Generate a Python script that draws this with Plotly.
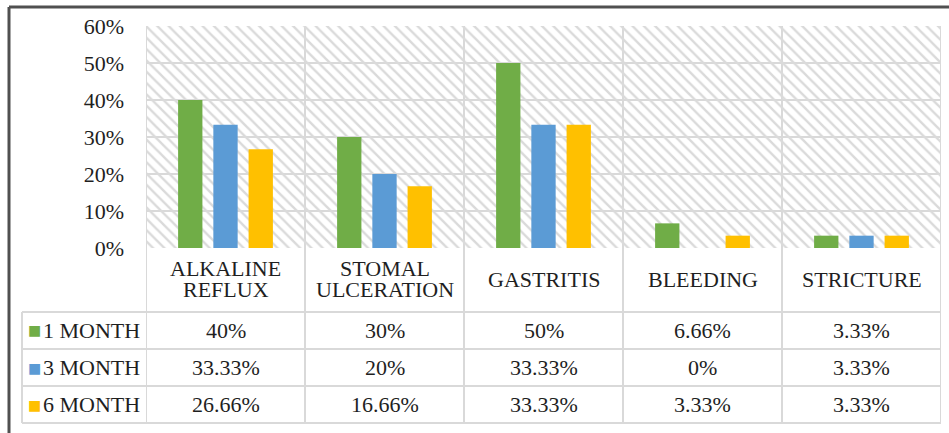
import plotly.graph_objects as go

categories = ["ALKALINE\nREFLUX", "STOMAL\nULCERATION", "GASTRITIS", "BLEEDING", "STRICTURE"]
series_names = ["1 MONTH", "3 MONTH", "6 MONTH"]
month1 = [40, 30, 50, 6.66, 3.33]
month3 = [33.33, 20, 33.33, 0, 3.33]
month6 = [26.66, 16.66, 33.33, 3.33, 3.33]
colors = ["#70ad47", "#5b9bd5", "#ffc000"]
y_ticks = [0, 10, 20, 30, 40, 50, 60]

series = [month1, month3, month6]
n = len(categories)
xs = list(range(n))
Y_MAX = y_ticks[-1]

W, H = 949, 433
L, R, T, B = 146, 8, 26, 185
PW, PH = W - L - R, H - T - B

def X(px):
    return (px - L) / PW

def Y(py):
    return (H - B - py) / PH

FONT = "Times New Roman"
FS = 22
TXT = "#1f1f1f"
GRID = "#d9d9d9"

fig = go.Figure()

# hatched plot-area background
fig.add_trace(go.Bar(
    x=[(n - 1) / 2], y=[Y_MAX], width=[n], xaxis="x", yaxis="y",
    marker=dict(color="#dadada", line=dict(width=0),
                pattern=dict(shape="\\", size=8, solidity=0.3, fillmode="replace")),
    showlegend=False, hoverinfo="skip",
))

for name, vals, col in zip(series_names, series, colors):
    fig.add_trace(go.Bar(
        x=xs, y=vals, name=name, xaxis="x2", yaxis="y",
        marker=dict(color=col, line=dict(width=0)), showlegend=False,
    ))

shapes = []
annotations = []

row_h = 37
header_top, header_bot = 248, 312
rows_top = [312 + i * row_h for i in range(3)]
table_bottom = rows_top[-1] + row_h
legend_left = 22

for i in range(n + 1):
    shapes.append(dict(type="line", xref="x", yref="paper", x0=i - 0.5, x1=i - 0.5,
                       y0=Y(table_bottom), y1=Y(26), line=dict(color=GRID, width=2), layer="below"))
shapes.append(dict(type="line", xref="paper", yref="paper", x0=X(legend_left), x1=X(legend_left),
                   y0=Y(table_bottom), y1=Y(header_bot), line=dict(color=GRID, width=2)))
for py in rows_top + [table_bottom]:
    shapes.append(dict(type="line", xref="paper", yref="paper", x0=X(legend_left), x1=1,
                       y0=Y(py), y1=Y(py), line=dict(color=GRID, width=2)))
shapes.append(dict(type="line", xref="paper", yref="paper", x0=X(9), x1=X(W + 5),
                   y0=Y(7), y1=Y(7), line=dict(color="#505050", width=3)))
shapes.append(dict(type="line", xref="paper", yref="paper", x0=X(9), x1=X(9),
                   y0=Y(H + 5), y1=Y(7), line=dict(color="#505050", width=3)))

hc = (header_top + header_bot) / 2 - 1
for i, cat in enumerate(categories):
    lines = cat.split("\n")
    k = len(lines)
    for j, ln in enumerate(lines):
        py = hc + (j - (k - 1) / 2) * 21
        annotations.append(dict(x=i, y=Y(py), xref="x", yref="paper", text=ln, showarrow=False,
                                font=dict(family=FONT, size=FS, color=TXT), xanchor="center", yanchor="middle"))

for r, (name, vals, col) in enumerate(zip(series_names, series, colors)):
    cy = rows_top[r] + row_h / 2
    annotations.append(dict(x=X(34), y=Y(cy), xref="paper", yref="paper", text="■", showarrow=False,
                            font=dict(family="DejaVu Sans", size=14, color=col), xanchor="center", yanchor="middle"))
    annotations.append(dict(x=X(41), y=Y(cy), xref="paper", yref="paper", text=name, showarrow=False,
                            font=dict(family=FONT, size=FS, color=TXT), xanchor="left", yanchor="middle"))
    for i, v in enumerate(vals):
        annotations.append(dict(x=i, y=Y(cy), xref="x", yref="paper", text=f"{v:g}%", showarrow=False,
                                font=dict(family=FONT, size=FS, color=TXT), xanchor="center", yanchor="middle"))

fig.update_layout(
    width=W, height=H, margin=dict(l=L, r=R, t=T, b=B),
    paper_bgcolor="white", plot_bgcolor="white",
    barmode="group", bargap=0.335, bargroupgap=0.31,
    xaxis=dict(range=[-0.5, n - 0.5], showgrid=False, zeroline=False, showticklabels=False, ticks=""),
    xaxis2=dict(range=[-0.5, n - 0.5], overlaying="x", showgrid=False, zeroline=False,
                showticklabels=False, ticks="", visible=False),
    yaxis=dict(range=[0, Y_MAX], tickvals=y_ticks, ticktext=[f"{t}%" for t in y_ticks],
               showgrid=True, gridcolor=GRID, gridwidth=2, zeroline=False, ticks="",
               ticklabelstandoff=21, tickfont=dict(family=FONT, size=FS, color=TXT)),
    shapes=shapes, annotations=annotations,
)

fig.write_html("out.html")
